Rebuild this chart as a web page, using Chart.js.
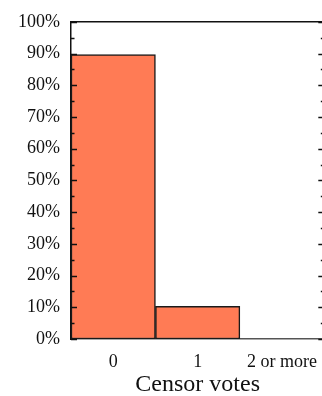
<!DOCTYPE html>
<html>
<head>
<meta charset="utf-8">
<script src="https://cdn.jsdelivr.net/npm/chart.js@4.4.1/dist/chart.umd.min.js"></script>
<style>
  html, body { margin: 0; padding: 0; background: #fff; overflow: hidden; }
  #wrap { width: 330px; height: 396px; position: relative; }
</style>
</head>
<body>
<div id="wrap"><canvas id="c"></canvas></div>
<script>
// Share of items by number of censor votes
const categories = ['0', '1', '2 or more'];
const shares = [89.7, 10.3, 0];
const yTicks = [0, 10, 20, 30, 40, 50, 60, 70, 80, 90, 100];
const xTitle = 'Censor votes';

const serif = "'Liberation Serif', 'Times New Roman', serif";

// Inward tick marks on both vertical edges plus the top frame line
const frameTicks = {
  id: 'frameTicks',
  afterDatasetsDraw(chart) {
    const { ctx, chartArea: a } = chart;
    const y = chart.scales.y;
    ctx.save();
    ctx.strokeStyle = '#111';
    ctx.lineWidth = 1.5;
    ctx.beginPath();
    ctx.moveTo(a.left, a.top);
    ctx.lineTo(a.right, a.top);
    ctx.moveTo(a.right, a.top);
    ctx.lineTo(a.right, a.bottom);
    ctx.stroke();
    ctx.lineWidth = 1.3;
    for (let v = 0; v <= 100; v += 5) {
      const py = Math.round(y.getPixelForValue(v)) + 0.5;
      const len = v % 10 === 0 ? 6 : 3.5;
      ctx.beginPath();
      ctx.moveTo(a.left, py);
      ctx.lineTo(a.left + len, py);
      ctx.moveTo(a.right, py);
      ctx.lineTo(a.right - len, py);
      ctx.stroke();
    }
    ctx.restore();
  }
};

new Chart(document.getElementById('c'), {
  type: 'bar',
  data: {
    labels: categories,
    datasets: [{
      data: shares,
      backgroundColor: '#ff7b55',
      borderColor: '#1a1a1a',
      borderWidth: 1.5,
      borderSkipped: false,
      categoryPercentage: 1,
      barPercentage: 1
    }]
  },
  options: {
    responsive: true,
    maintainAspectRatio: false,
    animation: false,
    layout: { padding: { top: 10, right: 5.5, left: 0, bottom: 0 } },
    plugins: { legend: { display: false }, tooltip: { enabled: false } },
    scales: {
      x: {
        grid: { display: false, drawTicks: false },
        border: { display: true, color: '#555', width: 1.5 },
        ticks: { color: '#111', font: { family: serif, size: 18 }, padding: 12, maxRotation: 0 },
        title: { display: true, text: xTitle, color: '#111', font: { family: serif, size: 24 }, padding: { top: 0, bottom: -3 } },
        afterFit(s) { s.height = 57; }
      },
      y: {
        min: 0,
        max: 100,
        afterBuildTicks(s) { s.ticks = yTicks.map(v => ({ value: v })); },
        grid: { display: false, drawTicks: false },
        border: { display: true, color: '#111', width: 1.5 },
        ticks: { color: '#111', font: { family: serif, size: 18 }, padding: 11, callback: v => v + '%' },
        afterFit(s) { s.width = 71; }
      }
    }
  },
  plugins: [frameTicks]
});
</script>
</body>
</html>
